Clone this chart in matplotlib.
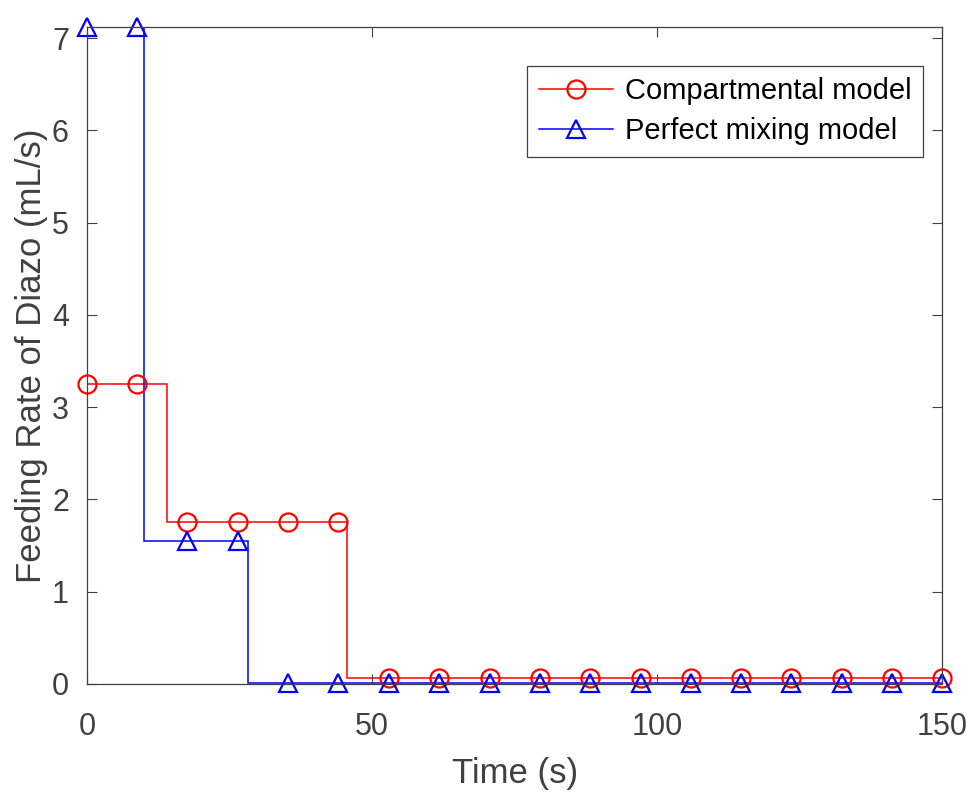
import matplotlib
matplotlib.use("Agg")
import matplotlib.pyplot as plt
from matplotlib.lines import Line2D

plt.rcParams['font.family'] = ['Liberation Sans', 'DejaVu Sans']

# step profiles (edges and values)
red_edges = [0, 14.0, 45.6, 150]
red_values = [3.25, 1.76, 0.07]
blue_edges = [0, 9.95, 28.3, 150]
blue_values = [7.12, 1.55, 0.015]

# sample points where markers sit
marker_t = [0, 8.8, 17.6, 26.5, 35.3, 44.1, 52.9, 61.8, 70.6, 79.4,
            88.2, 97.1, 105.9, 114.7, 123.5, 132.4, 141.2, 150]
red_marks = [3.25, 3.25, 1.76, 1.76, 1.76, 1.76, 0.07, 0.07, 0.07, 0.07,
             0.07, 0.07, 0.07, 0.07, 0.07, 0.07, 0.07, 0.07]
blue_marks = [7.12, 7.12, 1.55, 1.55, 0.015, 0.015, 0.015, 0.015, 0.015,
              0.015, 0.015, 0.015, 0.015, 0.015, 0.015, 0.015, 0.015, 0.015]

labels = ["Compartmental model", "Perfect mixing model"]
xticks = [0, 50, 100, 150]
yticks = [0, 1, 2, 3, 4, 5, 6, 7]

grey = '#404040'

fig = plt.figure(figsize=(9.71, 7.92), dpi=100)
ax = fig.add_axes([0.0896, 0.1364, 0.8808, 0.8295])

ax.stairs(red_values, red_edges, color='red', lw=1.1, baseline=None)
ax.plot(marker_t, red_marks, ls='none', marker='o', ms=13, mfc='none',
        mec='red', mew=1.6, clip_on=False)
ax.stairs(blue_values, blue_edges, color='blue', lw=1.1, baseline=None)
ax.plot(marker_t, blue_marks, ls='none', marker='^', ms=13, mfc='none',
        mec='blue', mew=1.6, clip_on=False)

ax.set_xlim(0, 150)
ax.set_ylim(0, 7.12)
ax.set_xticks(xticks)
ax.set_yticks(yticks)
ax.tick_params(direction='in', length=7, width=0.8, top=True, right=True,
               labelsize=22, colors=grey)
ax.tick_params(axis='x', pad=20)
ax.tick_params(axis='y', pad=13)
for s in ax.spines.values():
    s.set_color(grey)
    s.set_linewidth(0.9)

ax.set_xlabel("Time (s)", fontsize=25, color=grey, labelpad=11)
ax.set_ylabel("Feeding Rate of Diazo (mL/s)", fontsize=25, color=grey, labelpad=3)

handles = [
    Line2D([], [], color='red', lw=1.1, marker='o', ms=13, mfc='none', mec='red', mew=1.6),
    Line2D([], [], color='blue', lw=1.1, marker='^', ms=13, mfc='none', mec='blue', mew=1.6),
]
leg = ax.legend(handles, labels, loc='upper right', bbox_to_anchor=(0.978, 0.941),
                borderaxespad=0, fontsize=21, handlelength=2.55, fancybox=False,
                framealpha=1, edgecolor=grey, borderpad=0.4, labelspacing=0.4,
                handletextpad=0.4)
leg.get_frame().set_linewidth(0.9)

fig.savefig("out.png", dpi=100)
